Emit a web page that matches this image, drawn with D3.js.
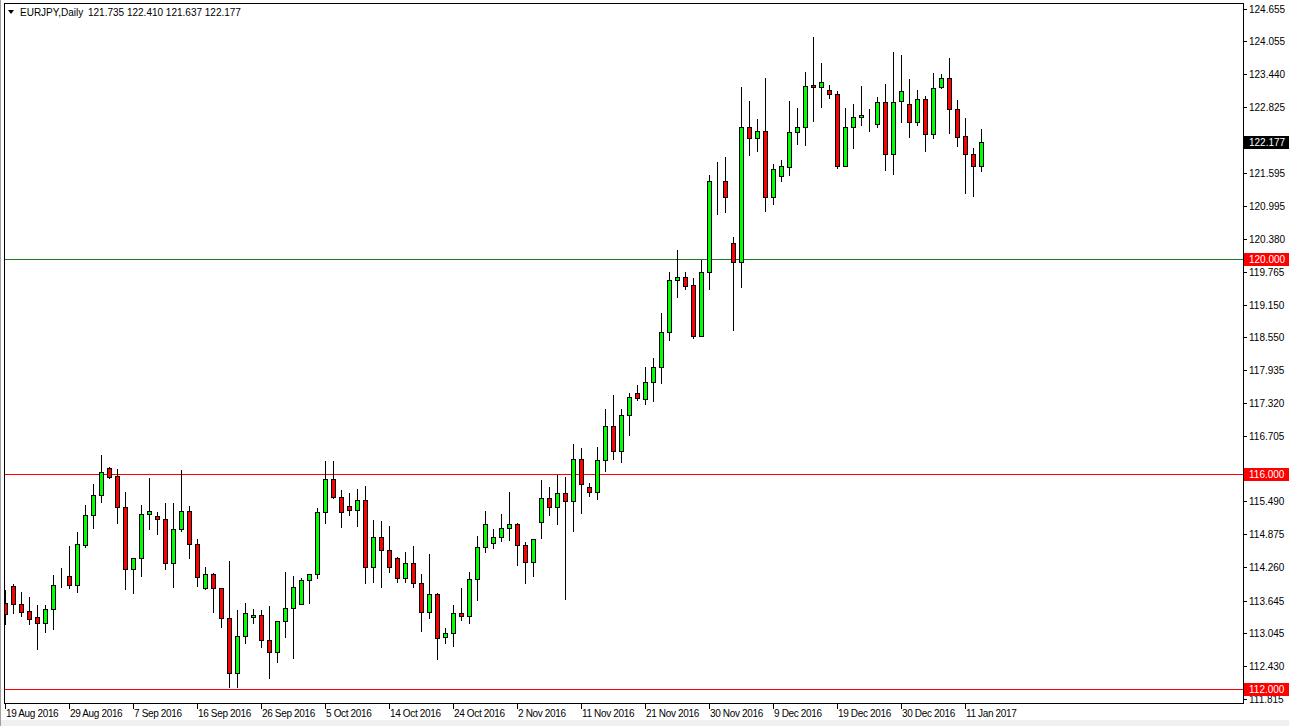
<!DOCTYPE html>
<html>
<head>
<meta charset="utf-8">
<script src="https://cdn.jsdelivr.net/npm/d3@7"></script>
<style>
  html, body { margin: 0; padding: 0; background: #ffffff; }
  svg { display: block; }
  text { font-family: "Liberation Sans", Arial, sans-serif; font-size: 10px; }
  text.dt { letter-spacing: -0.35px; }
</style>
</head>
<body>
<script>
// ---- DATA (EURJPY Daily, one bar per trading session, index 0 = 19 Aug 2016) ----
const opens = [113.594,113.917,113.576,113.445,113.340,113.222,113.483,114.103,114.103,113.929,
  114.686,115.232,115.604,116.106,115.963,115.380,114.227,114.432,115.250,115.213,
  115.163,114.339,114.971,115.306,114.692,113.873,114.134,113.873,113.315,112.292,
  112.987,113.334,113.377,112.912,112.683,113.266,113.501,113.582,114.022,114.134,
  115.294,115.901,115.579,115.399,115.325,115.511,114.264,114.822,114.587,114.431,
  114.059,114.339,113.966,113.439,113.762,112.962,113.036,113.408,113.365,114.041,
  114.636,114.711,114.822,114.989,115.064,114.673,114.369,115.101,115.554,115.392,
  115.640,115.504,116.273,115.752,115.659,116.261,116.893,116.434,117.098,117.501,
  117.396,117.706,117.985,118.649,119.610,119.660,119.511,118.574,119.753,121.446,
  121.446,120.292,119.951,122.463,122.246,122.382,121.148,121.545,121.718,122.357,
  122.450,123.238,123.194,123.139,123.064,121.737,122.450,122.636,122.667,122.512,
  122.915,121.948,122.940,122.884,122.556,122.971,122.320,123.207,123.362,122.785,
  122.289,121.948,121.735];
const highs = [113.843,113.954,113.799,113.712,113.563,113.563,114.122,114.252,114.667,114.921,
  115.424,115.808,116.354,116.137,116.087,115.666,114.432,115.424,115.926,115.287,
  115.467,115.455,116.075,115.405,114.785,114.264,114.152,113.873,114.382,113.470,
  113.594,113.483,113.470,113.545,113.266,114.183,114.103,114.072,114.134,115.362,
  116.242,116.242,115.703,115.641,115.715,115.777,115.145,115.126,115.033,114.462,
  114.555,114.661,114.134,114.512,113.780,113.129,113.563,113.886,114.177,114.847,
  115.312,114.977,115.256,115.665,115.095,114.741,114.785,115.889,115.765,115.982,
  115.951,116.558,116.478,115.839,116.496,117.203,117.470,117.203,117.501,117.656,
  117.985,118.152,118.990,119.753,120.168,119.765,119.641,119.982,121.563,121.812,
  121.892,120.416,123.207,122.946,122.599,123.362,121.762,121.842,122.940,122.804,
  123.480,124.125,123.653,123.238,123.126,122.804,122.884,123.219,122.791,123.021,
  123.256,123.845,123.796,123.343,123.145,123.033,123.467,123.442,123.746,122.959,
  122.618,122.072,122.410];
const lows = [113.204,113.421,113.365,113.204,112.751,113.067,113.123,113.905,113.873,113.811,
  114.649,115.002,115.486,115.932,115.095,113.867,113.780,114.109,114.983,114.890,
  114.227,113.905,114.946,114.432,113.917,113.855,113.439,113.160,112.044,112.044,
  112.850,113.235,112.788,112.211,112.497,112.962,112.571,113.582,113.594,114.059,
  115.083,115.560,115.021,115.238,115.033,113.979,113.997,113.892,114.177,113.997,
  113.997,113.904,113.080,113.328,112.559,112.862,112.807,113.284,113.235,113.656,
  114.556,114.630,114.754,114.772,114.307,113.978,114.109,114.816,115.237,115.070,
  113.675,114.946,115.281,115.597,115.529,116.062,116.279,116.230,116.726,117.377,
  117.297,117.365,117.700,118.494,119.300,119.436,118.537,118.568,119.436,120.838,
  120.881,118.680,119.486,121.936,122.016,120.900,121.024,121.458,121.563,122.140,
  122.121,122.574,122.822,123.002,121.687,121.737,122.072,122.494,122.388,122.463,
  121.656,121.582,122.556,122.276,122.494,122.016,122.245,123.188,122.351,122.103,
  121.222,121.179,121.637];
const closes = [113.390,113.576,113.439,113.309,113.222,113.483,113.936,114.103,113.929,114.692,
  115.238,115.610,116.032,115.938,115.380,114.227,114.432,115.250,115.306,115.157,
  114.339,114.971,115.306,114.692,114.078,114.134,113.873,113.315,112.292,112.987,
  113.408,113.377,112.912,112.683,113.266,113.501,113.892,114.022,114.134,115.294,
  115.901,115.579,115.287,115.325,115.511,114.264,114.822,114.587,114.264,114.059,
  114.339,113.966,113.439,113.762,112.943,113.036,113.408,113.365,114.041,114.636,
  115.070,114.822,114.989,115.064,114.673,114.369,114.785,115.554,115.392,115.640,
  115.504,116.273,115.808,115.659,116.261,116.893,116.434,117.098,117.427,117.408,
  117.706,117.985,118.636,119.610,119.660,119.498,118.568,119.753,121.446,121.446,
  121.160,119.939,122.463,122.246,122.382,121.148,121.669,121.731,122.357,122.450,
  123.219,123.194,123.287,123.064,121.737,122.450,122.636,122.673,122.667,122.915,
  121.948,122.915,123.126,122.556,122.971,122.320,123.176,123.362,122.785,122.264,
  121.948,121.737,122.177];

const dateLabels = ["19 Aug 2016","29 Aug 2016","7 Sep 2016","16 Sep 2016","26 Sep 2016",
  "5 Oct 2016","14 Oct 2016","24 Oct 2016","2 Nov 2016","11 Nov 2016","21 Nov 2016",
  "30 Nov 2016","9 Dec 2016","19 Dec 2016","30 Dec 2016","11 Jan 2017"];
const dateLabelEvery = 8; // bars between date labels

const priceTicks = [124.655,124.055,123.440,122.825,121.595,120.995,120.380,119.765,
  119.150,118.550,117.935,117.320,116.705,115.490,114.875,114.260,113.645,113.045,
  112.430,111.815];

const levelPrices = [120.000, 116.000, 112.000];
const symbolName = "EURJPY,Daily";
const lastBarText = "121.735 122.410 121.637 122.177";
const lastPrice = 122.177;

// ---- CHART ----
const W = 1289, H = 726;
const plotLeft = 4, plotTop = 3, plotRight = 1243, plotBottom = 703;

const svg = d3.select("body").append("svg").attr("width", W).attr("height", H);

// window chrome
svg.append("rect").attr("x",0).attr("y",0).attr("width",W).attr("height",H).attr("fill","#ffffff");
svg.append("rect").attr("x",0).attr("y",720).attr("width",W).attr("height",6).attr("fill","#f0f0f0");
svg.append("line").attr("x1",0.5).attr("x2",0.5).attr("y1",0).attr("y2",H).attr("stroke","#a0a0a0");

const n = opens.length;
const x = d3.scaleLinear().domain([0, n - 1]).range([5, 5 + 8 * (n - 1)]);
const y = d3.scaleLinear().domain([111.815, 124.655]).range([698.9, 8.8]);

const px = v => Math.round(x(v)) + 0.5;
const py = v => Math.round(y(v)) + 0.5;

// plot frame
svg.append("rect")
  .attr("x", plotLeft + 0.5).attr("y", plotTop + 0.5)
  .attr("width", plotRight - plotLeft).attr("height", plotBottom - plotTop)
  .attr("fill", "none").attr("stroke", "#000");

// horizontal levels
const levelColor = p => p === 120 ? "#1e7a1e" : "#ff0000";
svg.selectAll("line.level").data(levelPrices).enter().append("line")
  .attr("class","level")
  .attr("x1", plotLeft + 1).attr("x2", plotRight)
  .attr("y1", d => py(d)).attr("y2", d => py(d))
  .attr("stroke", d => levelColor(d)).attr("stroke-width", 1);

// candles
const bars = d3.range(n).map(i => ({i, o: opens[i], h: highs[i], l: lows[i], c: closes[i]}));
const g = svg.append("g");
g.selectAll("line.wick").data(bars).enter().append("line")
  .attr("x1", d => px(d.i)).attr("x2", d => px(d.i))
  .attr("y1", d => Math.round(y(d.h))).attr("y2", d => Math.round(y(d.l)) + 1)
  .attr("stroke", "#000").attr("stroke-width", 1);

g.selectAll("rect.body").data(bars).enter().append("rect")
  .attr("x", d => px(d.i) - 2).attr("width", 4)
  .attr("y", d => py(Math.max(d.o, d.c)))
  .attr("height", d => Math.round(y(Math.min(d.o, d.c))) - Math.round(y(Math.max(d.o, d.c))))
  .attr("fill", d => d.c > d.o ? "#00ff00" : (d.c < d.o ? "#ff0000" : "#000"))
  .attr("stroke", "#000").attr("stroke-width", 1);

// clip the first candle by the frame: redraw left gutter
svg.append("rect").attr("x", 1).attr("y", plotTop).attr("width", plotLeft - 1 + 0.5).attr("height", plotBottom - plotTop)
  .attr("fill", "#fff");
svg.append("line").attr("x1", plotLeft + 0.5).attr("x2", plotLeft + 0.5).attr("y1", plotTop).attr("y2", plotBottom + 1)
  .attr("stroke", "#000");

// right price axis
const axG = svg.append("g");
axG.selectAll("line.pt").data(priceTicks).enter().append("line")
  .attr("x1", plotRight + 1).attr("x2", plotRight + 4)
  .attr("y1", d => py(d)).attr("y2", d => py(d)).attr("stroke", "#000");
axG.selectAll("text.pt").data(priceTicks).enter().append("text")
  .attr("x", plotRight + 6).attr("y", d => Math.round(y(d)) + 4)
  .attr("fill", "#000").text(d => d.toFixed(3));

// level boxes & last price box
const boxes = levelPrices.map(p => ({p, bg: "#ff0000"})).concat([{p: lastPrice, bg: "#000000"}]);
boxes.forEach(b => {
  const yy = Math.round(y(b.p));
  axG.append("rect").attr("x", plotRight + 1).attr("y", yy - 6).attr("width", W - plotRight - 1).attr("height", 13)
    .attr("fill", b.bg);
  axG.append("text").attr("x", plotRight + 6).attr("y", yy + 4).attr("fill", "#fff").text(b.p.toFixed(3));
});

// bottom date axis
const dG = svg.append("g");
dG.selectAll("line.dt").data(dateLabels).enter().append("line")
  .attr("x1", (d, k) => px(k * dateLabelEvery)).attr("x2", (d, k) => px(k * dateLabelEvery))
  .attr("y1", plotBottom + 1).attr("y2", plotBottom + 6).attr("stroke", "#000");
dG.selectAll("text.dt").data(dateLabels).enter().append("text")
  .attr("class", "dt")
  .attr("x", (d, k) => Math.round(x(k * dateLabelEvery)) + 1).attr("y", 717)
  .attr("fill", "#000").text(d => d);

// header
svg.append("path").attr("d", "M8,10 L14,10 L11,14 Z").attr("fill", "#000");
svg.append("text").attr("x", 20).attr("y", 16).attr("fill", "#000").text(symbolName);
svg.append("text").attr("x", 88).attr("y", 16).attr("fill", "#000").text(lastBarText);
</script>
</body>
</html>
